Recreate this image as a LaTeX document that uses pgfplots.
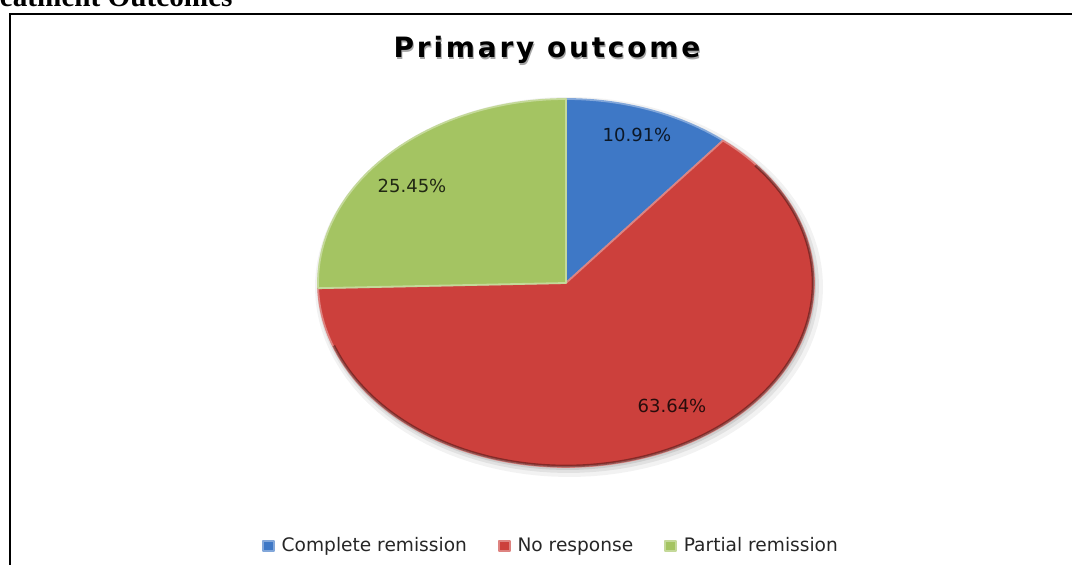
\documentclass[border=0pt]{standalone}
\usepackage{pgfplots}
\pgfplotsset{compat=1.18}
\usepackage{fontspec}
\setmainfont{DejaVu Sans}
\newfontfamily\titlefont[LetterSpace=10]{DejaVu Sans}
\newfontfamily\serifbold{Liberation Serif}
\definecolor{cBlue}{RGB}{62,120,198}
\definecolor{cRed}{RGB}{204,64,60}
\definecolor{cGreen}{RGB}{164,196,98}
% data (percent)
\def\vA{10.91}
\def\vB{63.64}
\def\vC{25.45}
\pgfmathsetmacro\aA{90-3.6*\vA}
\pgfmathsetmacro\aB{\aA-3.6*\vB}
\pgfmathsetmacro\aC{\aB-3.6*\vC}
\begin{document}
\begin{tikzpicture}
\useasboundingbox (0,0) rectangle (536pt,282.5pt);
\begin{axis}[
  at={(0,0)}, anchor=south west,
  width=536pt, height=282.5pt, scale only axis,
  xmin=0, xmax=1072, ymin=0, ymax=565,
  hide axis, clip=false,
  legend style={at={(axis cs:552,19)}, anchor=center, draw=none, fill=none,
    legend columns=3, font=\fontsize{9.3}{11}\selectfont, text=black!85,
    /tikz/every even column/.append style={column sep=13.5pt},
    inner sep=0pt},
  legend image code/.code={\fill[#1] (0pt,-2.6pt) rectangle (5.4pt,2.6pt); \path (6.9pt,0pt);},
]
% soft shadow
\addplot[forget plot, draw=none, fill=black, fill opacity=0.05, domain=0:360, samples=120, variable=\t] ({569+254*cos(\t)},{278+190*sin(\t)});
\addplot[forget plot, draw=none, fill=black, fill opacity=0.07, domain=0:360, samples=120, variable=\t] ({568+251*cos(\t)},{279+187*sin(\t)});
\addplot[forget plot, draw=none, fill=black, fill opacity=0.09, domain=0:360, samples=120, variable=\t] ({567+249*cos(\t)},{280+185*sin(\t)});
% slices
\addplot[fill=cBlue, draw=cBlue!65!white, line width=0.9pt, line join=round, domain=\aA:90, samples=40, variable=\t]
  ({566+248*cos(\t)},{282+184*sin(\t)}) -- (axis cs:566,282) -- cycle;
\addlegendentry{Complete remission}
\addplot[fill=cRed, draw=cRed!65!white, line width=0.9pt, line join=round, domain=\aB:\aA, samples=150, variable=\t]
  ({566+248*cos(\t)},{282+184*sin(\t)}) -- (axis cs:566,282) -- cycle;
\addlegendentry{No response}
\addplot[fill=cGreen, draw=cGreen!65!white, line width=0.9pt, line join=round, domain=\aC:\aB, samples=60, variable=\t]
  ({566+248*cos(\t)},{282+184*sin(\t)}) -- (axis cs:566,282) -- cycle;
\addlegendentry{Partial remission}
% rim shading
\addplot[forget plot, draw=black, draw opacity=0.35, line width=1.3pt, domain=-160:40, samples=120, variable=\t] ({566+247*cos(\t)},{282+183*sin(\t)});
% labels
\node[font=\fontsize{9}{11}\selectfont, text=black, text opacity=0.8] at (axis cs:637,430) {10.91\%};
\node[font=\fontsize{9}{11}\selectfont, text=black, text opacity=0.8] at (axis cs:412,379) {25.45\%};
\node[font=\fontsize{9}{11}\selectfont, text=black, text opacity=0.8] at (axis cs:672,159) {63.64\%};
% title with shadow
\node[anchor=base, font=\titlefont\bfseries\fontsize{14}{16}\selectfont, text=black!35] at (axis cs:548,505) {Primary outcome};
\node[anchor=base, font=\titlefont\bfseries\fontsize{14}{16}\selectfont, text=black] at (axis cs:547,507) {Primary outcome};
\end{axis}
% frame (left and top edges visible)
\draw[line width=1.1pt] (4.8pt,-10pt) -- (4.8pt,275.6pt) -- (560pt,275.6pt);
% clipped heading above frame
\node[anchor=base east, font=\serifbold\bfseries\fontsize{14.6}{16}\selectfont, inner sep=0pt] at (116.5pt,279.3pt) {Treatment Outcomes};
\end{tikzpicture}
\end{document}
